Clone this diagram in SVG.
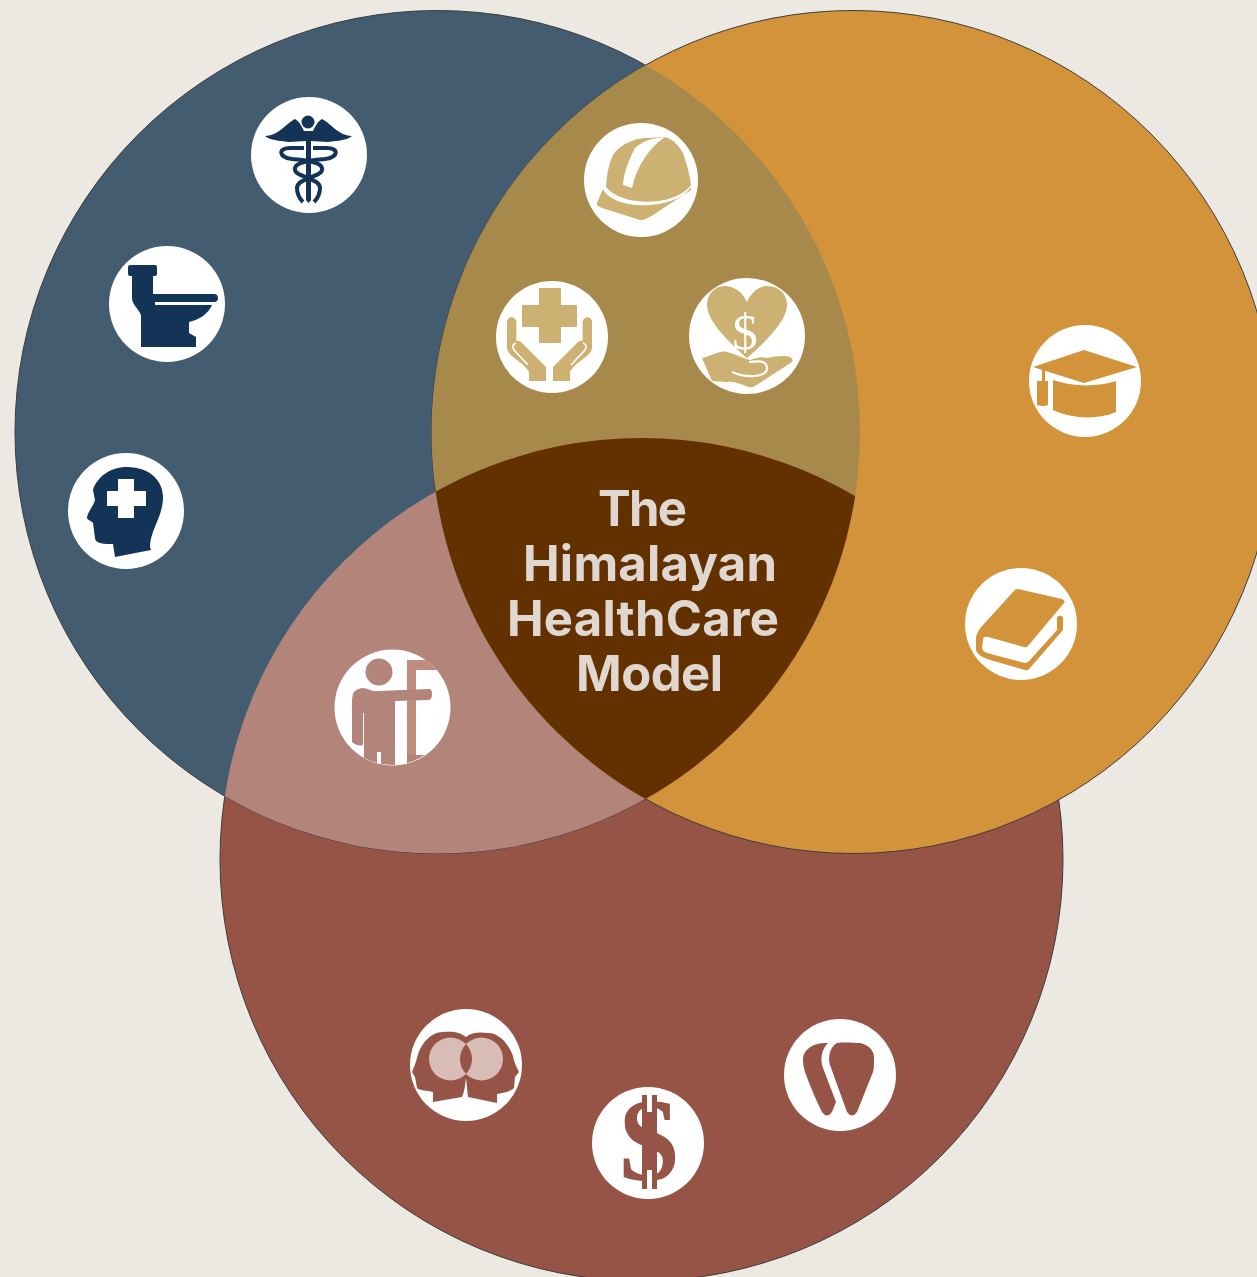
<svg xmlns="http://www.w3.org/2000/svg" width="1257" height="1277" viewBox="0 0 1257 1277">
<style>
.w{fill:#fff}
.navy{fill:#133457}
.tan{fill:#CDB173}
.or{fill:#D3933A}
.rd{fill:#965447}
.pk{fill:#B3847A}
.ttl{font-family:"Inter","Open Sans","Liberation Sans",sans-serif;font-weight:700;font-size:49px;fill:#E0D8D0}
.big{stroke:#3d3d3d;stroke-width:1}
</style>
<defs>
<clipPath id="cB"><ellipse cx="437.5" cy="432" rx="422.5" ry="421.5"/></clipPath>
<clipPath id="cBO" clip-path="url(#cB)"><circle cx="853" cy="432" r="421.5"/></clipPath>
<clipPath id="cP"><circle cx="392" cy="707" r="58"/></clipPath>
<clipPath id="cL"><circle cx="450.5" cy="1059" r="21.5"/></clipPath>
</defs>
<rect width="1257" height="1277" fill="#ECE8E2"/>
<g id="circles">
<circle class="big" cx="641.5" cy="859.5" r="421.5" fill="#965447"/>
<ellipse class="big" cx="437.5" cy="432" rx="422.5" ry="421.5" fill="#435C70"/>
<circle class="big" cx="853" cy="432" r="421.5" fill="#D3933A"/>
<circle cx="641.5" cy="859.5" r="421.5" fill="#B3847A" clip-path="url(#cB)"/>
<circle cx="853" cy="432" r="421.5" fill="#A78A4B" clip-path="url(#cB)"/>
<circle cx="641.5" cy="859.5" r="421.5" fill="#633100" clip-path="url(#cBO)"/>
</g>
<g id="connectors"/>
<g id="caduceus">
<circle class="w" cx="309" cy="155" r="58"/>
<circle class="navy" cx="308" cy="122" r="6.5"/>
<path class="navy" d="M265 136C280 135 285 124 295 119C300 122 302 127 304 131H313C315 127 317 122 322 119C332 124 337 135 352 136C346 141 334 141 328 142L311 141V200L308.5 203L306 200V141L289 142C283 141 271 141 265 136Z"/>
<g fill="none" stroke="#133457" stroke-width="4">
<path d="M304 148H290C278 148 278 157 292 159C318 161 323 165 322 170C321 177 297 178 297 188C297 195 300 199 303 202"/>
<path d="M313 148H327C339 148 339 157 325 159C299 161 294 165 295 170C296 177 320 178 320 188C320 195 317 199 314 202"/>
</g>
</g>
<g id="toilet">
<circle class="w" cx="167" cy="304" r="58"/>
<path class="navy" d="M128 267Q128 265 130 265H155Q157 265 157 267V274Q157 276 155 276H153V294H214Q218 294 218 298Q218 302 214 302H155V305H212C208 314 199 320 189 322V333L196 337V347H141V315C138 308 132 304 132 298V276H130Q128 276 128 274Z"/>
</g>
<g id="head">
<circle class="w" cx="126" cy="511" r="58"/>
<path class="navy" d="M127 467C150 467 163 481 163 497C163 517 150 530 150 547L151 550L115 557L113 544C105 544 95 544 95 538L93 523C92 521 87 520 87 518C87 513 94 505 95 500L93 490C97 477 110 467 127 467Z"/>
<path class="w" d="M118 479H134V491H146V506H134V518H118V506H107V491H118Z"/>
</g>
<g id="helmet">
<circle class="w" cx="641" cy="180" r="57"/>
<path class="tan" d="M606 187C607 172 609 165 612 157C617 147 632 138 647 138L665 137C675 140 680 148 683 153C687 165 690 175 691 185C675 207 622 207 606 187Z"/>
<path class="w" d="M652 139L665 137C650 147 637 165 632 188L623 185C624 170 630 158 635 148C640 143 647 140 652 139Z"/>
<path class="tan" d="M603 189C613 211 675 211 691 187L691 190L653 215C648 218 644 220 640 220L602 208C598 206 596 205 597 203Z"/>
</g>
<g id="care">
<circle class="w" cx="552" cy="337" r="56"/>
<path class="tan" d="M539 288H561V305H577V327H561V343H539V327H522V305H539Z"/>
<path class="tan" d="M507 322A4.7 4.7 0 0 1 516.4 322V341C519 340 521 342 523 344L546 367V381H529V372C524 362 507 356 507 348Z"/>
<path class="tan" d="M592 322A4.7 4.7 0 0 0 582.6 322V341C580 340 578 342 576 344L553 367V381H570V372C575 362 592 356 592 348Z"/>
<g fill="none" stroke="#fff" stroke-width="1.7">
<path d="M516 343Q511 345 514 350L528 365"/>
<path d="M583 343Q588 345 585 350L571 365"/>
</g>
</g>
<g id="heart">
<circle class="w" cx="747" cy="336" r="58"/>
<path class="tan" d="M747 302C742 291 733 286 725 286C714 286 707 295 707 305C707 322 732 345 747 358C762 345 787 322 787 305C787 295 780 286 767 286C760 286 752 291 747 302Z"/>
<text x="745" y="349" text-anchor="middle" font-family="'Liberation Serif',serif" font-size="51" fill="#fff">$</text>
<path class="tan" d="M702 358C712 356 720 350 727 352C735 354 742 358 750 360C755 358 762 356 767 358C775 356 785 355 790 357Q794 359 792 362L755 386Q752 388 749 387C742 385 735 381 727 382L712 381Z"/>
<path d="M732 372C745 378 767 378 767 368C767 360 757 361 749 362" fill="none" stroke="#fff" stroke-width="2.2"/>
</g>
<g id="cap">
<circle class="w" cx="1085" cy="381" r="56"/>
<path class="or" d="M1084 350L1137 367L1084 383L1033 367Z"/>
<path class="or" d="M1053 380C1072 387 1098 387 1116 381V412C1098 420 1072 419 1053 410Z"/>
<path class="or" d="M1042 368H1045V381H1048V405Q1043 407 1037 405V381H1042Z"/>
</g>
<g id="book">
<circle class="w" cx="1021" cy="624" r="56"/>
<path class="or" d="M1018 589L1062 599Q1066 601 1064 603L1028 646Q1026 648 1024 647L988 637Q983 636 983 640L982 648Q983 652 987 653L1025 663Q1028 663 1030 660L1057 630V617Q1060 614 1063 617V630L1030 668Q1028 671 1025 670L987 659Q977 655 976 650V637Q978 630 983 625L1013 592Q1015 589 1018 589Z"/>
</g>
<g id="person">
<circle class="w" cx="392.5" cy="707.5" r="58"/>
<g clip-path="url(#cP)">
<path fill="#C08C80" d="M407 660H460V670H416V760H460V770H407Z"/>
<rect x="407" y="755" width="50" height="20" class="pk"/>
<circle class="pk" cx="379" cy="672" r="13.5"/>
<path class="pk" d="M352 700Q352 689 362 688C368 688 372 692 378 691L429 689Q432 689 432 694Q432 700 428 700L395 701V770H381V752H377V770H364V713H363V745Q358 747 352 742Z"/>
</g>
</g>
<g id="minds">
<circle class="w" cx="466" cy="1065" r="56"/>
<path class="rd" d="M412 1072C414 1067 416 1062 417 1058C420 1045 430 1032 443 1032C453 1031 460 1032 466 1037C472 1032 480 1032 488 1033C500 1033 509 1045 513 1056C514 1062 516 1066 519 1072L515 1077L514 1088C510 1092 505 1092 497 1094V1103L468 1097C467 1090 467 1085 466 1078C465 1085 465 1090 462 1097L433 1102V1092C427 1090 420 1091 417 1088L415 1077Z"/>
<circle cx="450.5" cy="1059" r="21.5" fill="#D8BDB6"/>
<circle cx="481.5" cy="1059" r="21.5" fill="#D8BDB6"/>
<circle class="rd" cx="481.5" cy="1059" r="21.5" clip-path="url(#cL)"/>
</g>
<g id="dollar">
<circle class="w" cx="648" cy="1143" r="56"/>
<text x="649" y="1180" text-anchor="middle" font-family="'Liberation Serif',serif" font-weight="700" font-size="118" class="rd">$</text>
<rect class="w" x="646" y="1090" width="7" height="22"/>
<rect class="w" x="646" y="1170" width="7" height="22"/>
<rect class="rd" x="642" y="1095" width="5" height="94"/>
<rect class="rd" x="652" y="1095" width="5" height="94"/>
</g>
<g id="pick">
<circle class="w" cx="840" cy="1075" r="56"/>
<path class="rd" d="M828 1043C816 1042 804 1048 803 1058C803 1065 804 1068 805 1072C810 1086 816 1100 822 1112Q827 1119 832 1112L836 1102L823 1068C820 1060 821 1050 828 1043Z"/>
<path class="rd" d="M837 1043C845 1042 855 1043 860 1043C870 1045 875 1052 874 1060C874 1065 874 1068 873 1072L857 1112Q852 1119 847 1112L830 1065C828 1058 829 1048 837 1043Z"/>
</g>
<g id="title">
<text class="ttl" x="598" y="526" textLength="89">The</text>
<text class="ttl" x="523" y="581" textLength="254">Himalayan</text>
<text class="ttl" x="507" y="636" textLength="272">HealthCare</text>
<text class="ttl" x="576" y="691" textLength="147">Model</text>
</g>
</svg>
